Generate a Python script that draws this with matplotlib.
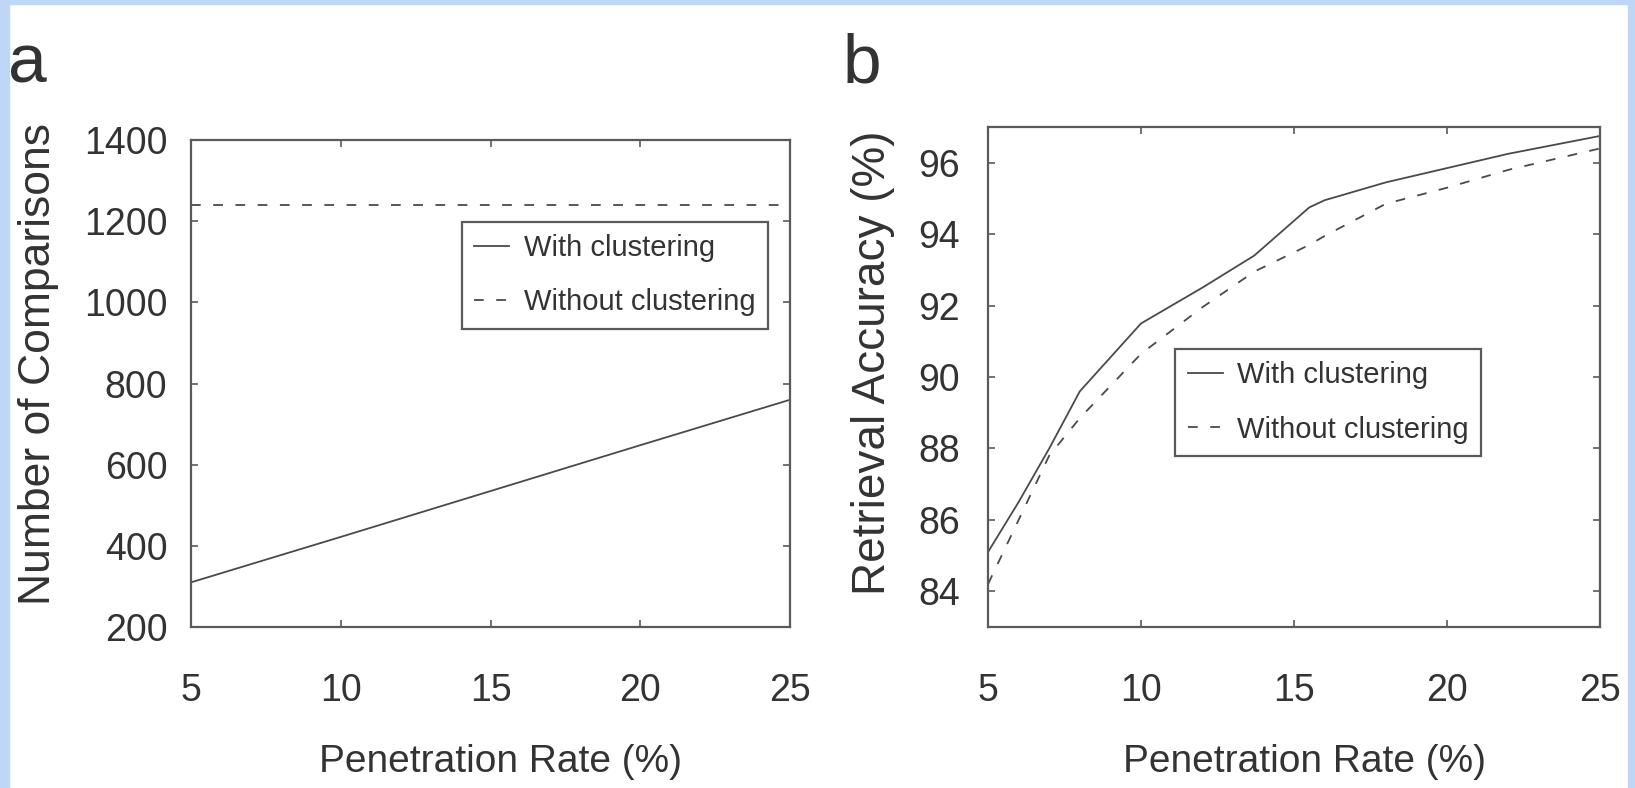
import matplotlib
matplotlib.use("Agg")
import matplotlib.pyplot as plt
from matplotlib.patches import Rectangle

# panel a: number of comparisons
rate_a = [5, 10, 15, 20, 25]
comp_with = [310, 422, 535, 648, 760]
comp_without = [1240, 1240, 1240, 1240, 1240]

# panel b: retrieval accuracy
rate_b = [5, 6, 7, 8, 10, 12, 13.7, 15.5, 16, 18, 20, 22, 25]
acc_with = [85.1, 86.5, 88.0, 89.6, 91.5, 92.5, 93.4, 94.75, 94.95, 95.45, 95.85, 96.25, 96.75]
acc_without = [84.2, 86.0, 87.8, 88.85, 90.65, 91.95, 92.95, 93.7, 93.95, 94.85, 95.3, 95.8, 96.4]

xticks = [5, 10, 15, 20, 25]
yticks_a = [200, 400, 600, 800, 1000, 1200, 1400]
yticks_b = [84, 86, 88, 90, 92, 94, 96]

txt = "#333333"
line_c = "#4a4a4a"
frame_c = "#5a5a5a"
font = ["Liberation Sans", "DejaVu Sans"]

plt.rcParams["lines.scale_dashes"] = False

fig = plt.figure(figsize=(16.35, 7.88), dpi=100)
ax_a = fig.add_axes([0.1168, 0.2043, 0.3664, 0.618])
ax_b = fig.add_axes([0.6043, 0.2043, 0.3743, 0.6345])

dash = (0, (7, 9))

ax_a.plot(rate_a, comp_with, color=line_c, lw=1.3, label="With clustering")
ax_a.plot(rate_a, comp_without, color=line_c, lw=1.3, ls=dash, label="Without clustering")
ax_b.plot(rate_b, acc_with, color=line_c, lw=1.3, label="With clustering")
ax_b.plot(rate_b, acc_without, color=line_c, lw=1.3, ls=dash, label="Without clustering")

ax_a.set_xlim(5, 25)
ax_a.set_ylim(200, 1400)
ax_b.set_xlim(5, 25)
ax_b.set_ylim(83, 97)
ax_a.set_yticks(yticks_a)
ax_b.set_yticks(yticks_b)

for ax, ypad in ((ax_a, 17), (ax_b, 20)):
    ax.set_xticks(xticks)
    for s in ax.spines.values():
        s.set_color(frame_c)
        s.set_linewidth(1.6)
    ax.tick_params(direction="in", top=True, right=True, length=5, width=1.2,
                   color=frame_c, labelcolor=txt)
    ax.tick_params(axis="x", pad=33)
    ax.tick_params(axis="y", pad=ypad)
    for lab in ax.get_xticklabels() + ax.get_yticklabels():
        lab.set_family(font)
        lab.set_fontsize(27)
    ax.set_xlabel("Penetration Rate (%)", family=font, fontsize=28, color=txt)

ax_a.set_ylabel("Number of Comparisons", family=font, fontsize=32, color=txt)
ax_b.set_ylabel("Retrieval Accuracy (%)", family=font, fontsize=33, color=txt)
ax_a.yaxis.set_label_coords(-0.220, 0.54)
ax_b.yaxis.set_label_coords(-0.152, 0.528)
ax_a.xaxis.set_label_coords(0.516, -0.240)
ax_b.xaxis.set_label_coords(0.517, -0.234)

leg_kw = dict(frameon=True, fancybox=False, shadow=False, framealpha=1,
              edgecolor=frame_c, handlelength=1.2, handletextpad=0.5,
              labelspacing=0.9, borderpad=0.42, borderaxespad=0,
              prop={"family": font, "size": 21}, labelcolor=txt)
leg_a = ax_a.legend(loc="upper right", bbox_to_anchor=(0.963, 0.832), **leg_kw)
leg_b = ax_b.legend(loc="upper left", bbox_to_anchor=(0.306, 0.556), **leg_kw)
for leg in (leg_a, leg_b):
    leg.get_frame().set_linewidth(1.6)

fig.text(0.005, 0.8947, "a", family=font, fontsize=50, color=txt)
fig.text(0.5155, 0.8947, "b", family=font, fontsize=50, color=txt)

# light blue page border
border = "#bfd7f7"
W, H = 1635, 788
for x0, y0, w, h in [(0, 0, 9, H), (0, H - 4, W, 4), (1628, 0, 7, H)]:
    fig.patches.append(Rectangle((x0 / W, y0 / H), w / W, h / H,
                                 transform=fig.transFigure, color=border, zorder=-1))

fig.savefig("out.png", dpi=100)
